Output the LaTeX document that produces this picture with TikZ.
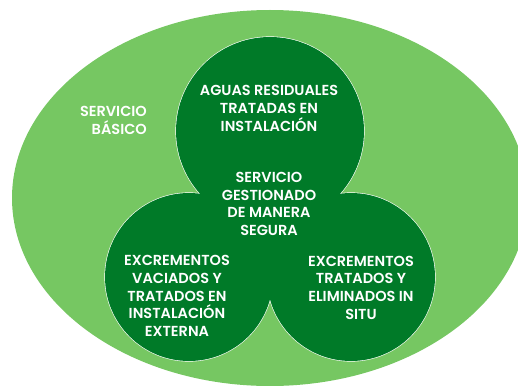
\documentclass[tikz,border=0pt]{standalone}
\usepackage{fontspec}
\setmainfont{Poppins}[BoldFont={Poppins SemiBold}]
\definecolor{basicgreen}{RGB}{118,199,98}
\definecolor{safegreen}{RGB}{0,122,40}

\begin{document}
\begin{tikzpicture}[x=1pt, y=-1pt,
        lbl/.style = {text=white, font=\bfseries\fontsize{14.5}{17.7}\selectfont, align=center, inner sep=0pt},
        outline/.style = {draw=white, line width=1.2pt},
        inner/.style = {fill=safegreen}]
                \useasboundingbox (0,0) rectangle (518,385);
                \clip (0,0) rectangle (518,385);

                \fill[basicgreen] (270,198) ellipse [x radius=258pt, y radius=188pt];

                \draw[outline] (270,131) circle (94pt);
                \draw[outline] (189,277) circle (84pt);
                \draw[outline] (351,277) circle (84pt);
                \fill[inner] (270,131) circle (94pt);
                \fill[inner] (189,277) circle (84pt);
                \fill[inner] (351,277) circle (84pt);
                \fill[inner] (270,131) -- (189,277) -- (351,277) -- cycle;

                \node[lbl, align=right, anchor=east] (basic) at (147,120.5) {SERVICIO\\BÁSICO};
                \node[lbl] (plant) at (269,108.5) {AGUAS RESIDUALES\\TRATADAS EN\\INSTALACIÓN};
                \node[lbl] (safe) at (269,204) {SERVICIO\\GESTIONADO\\DE MANERA\\SEGURA};
                \node[lbl] (offsite) at (177,296) {EXCREMENTOS\\VACIADOS Y\\TRATADOS EN\\INSTALACIÓN\\EXTERNA};
                \node[lbl] (onsite) at (361,287.5) {EXCREMENTOS\\TRATADOS Y\\ELIMINADOS IN\\SITU};
\end{tikzpicture}
\end{document}
